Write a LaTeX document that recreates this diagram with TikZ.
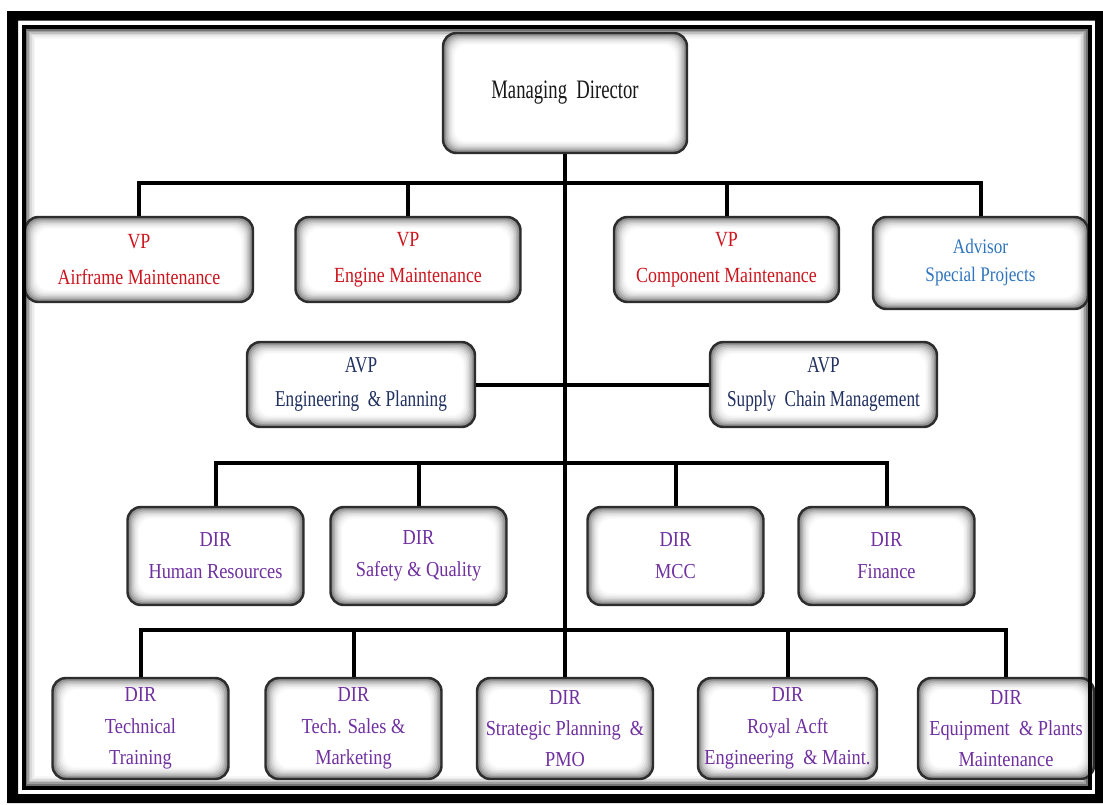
\documentclass[tikz,border=0pt]{standalone}
\usepackage{fontspec}
\setmainfont{Liberation Serif}
\newfontfamily\mdfont[FakeStretch=0.70]{Liberation Serif}
\newfontfamily\vpfont[FakeStretch=0.83]{Liberation Serif}
\newfontfamily\avpfont[FakeStretch=0.76]{Liberation Serif}
\newfontfamily\dirfont[FakeStretch=0.86]{Liberation Serif}
\usetikzlibrary{calc}

\definecolor{vpred}{RGB}{204,22,30}
\definecolor{avpnavy}{RGB}{32,48,96}
\definecolor{advblue}{RGB}{46,117,190}
\definecolor{dirpurple}{RGB}{112,48,160}
\definecolor{mdtext}{RGB}{25,25,25}
\definecolor{boxedge}{RGB}{45,45,45}

\begin{document}
\begin{tikzpicture}[x=0.75pt,y=-0.75pt,
  sz/.style 2 args={minimum width={#1*0.75pt}, minimum height={#2*0.75pt}},
  orgbox/.style={draw=boxedge, line width=1.8pt, rounded corners=10pt,
    align=center, inner sep=0pt,
    path picture={
      \foreach \k/\g in {0/55,1/42,2/31,3/22,4/15,5/9,6/5,7/2,8/0}{
        \fill[black!\g, rounded corners=9pt]
          ([shift={(\k*1.1pt,\k*1.1pt)}]path picture bounding box.south west) rectangle
          ([shift={(-\k*1.1pt,-\k*1.1pt)}]path picture bounding box.north east);
      }}},
  mdtxt/.style={font={\mdfont\fontsize{20pt}{24pt}\selectfont}, text=mdtext},
  vptxt/.style={font={\vpfont\fontsize{16.2pt}{27pt}\selectfont}, text=vpred},
  advtxt/.style={font={\vpfont\fontsize{15.5pt}{21pt}\selectfont}, text=advblue},
  avptxt/.style={font={\avpfont\fontsize{17pt}{25pt}\selectfont}, text=avpnavy},
  dirtxt/.style={font={\dirfont\fontsize{16pt}{24pt}\selectfont}, text=dirpurple},
  dirtxtb/.style={font={\dirfont\fontsize{16pt}{23.5pt}\selectfont}, text=dirpurple},
  conn/.style={line width=3pt, black}
]
% page and background
\useasboundingbox (0,0) rectangle (1103,804);
\fill[white] (0,0) rectangle (1103,804);

% soft shade just inside the frame
\foreach \k/\g in {0/55,1/38,2/25,3/15,4/8,5/3}{
  \draw[black!\g, line width=1.2pt]
    ($(26.3,29.8)+(\k*1.6,\k*1.6)$) rectangle ($(1086.7,784.7)-(\k*1.6,\k*1.6)$);
}

% junction points on the trunk
\coordinate (j1) at (565,183);
\coordinate (j3) at (565,463);
\coordinate (j4) at (565,630);

% boxes
\node[orgbox, sz={244}{120}, mdtxt] (md) at (565,93) {Managing~~Director};

\node[orgbox, sz={228}{85}, vptxt] (vp1) at (139,259.5) {VP\\Airframe Maintenance};
\node[orgbox, sz={225}{85}, vptxt] (vp2) at (408,259.5) {VP\\Engine Maintenance};
\node[orgbox, sz={225}{85}, vptxt] (vp3) at (726.5,259.5) {VP\\Component Maintenance};
\node[orgbox, sz={215}{92}, advtxt] (adv) at (980.5,263) {Advisor\\Special Projects};

\node[orgbox, sz={228}{85}, avptxt] (avp1) at (361,384.5) {AVP\\Engineering~~\& Planning};
\node[orgbox, sz={227}{85}, avptxt] (avp2) at (823.5,384.5) {AVP\\Supply~~Chain Management};

\node[orgbox, sz={176}{98}, dirtxt] (d1) at (215.5,556) {DIR\\Human Resources};
\node[orgbox, sz={176}{98}, dirtxt] (d2) at (418.5,556) {DIR\\Safety \& Quality};
\node[orgbox, sz={176}{98}, dirtxt] (d3) at (675.5,556) {DIR\\MCC};
\node[orgbox, sz={176}{98}, dirtxt] (d4) at (886.5,556) {DIR\\Finance};

\node[orgbox, sz={176}{101}, dirtxtb] (e1) at (140.5,728.5) {DIR\\Technical\\Training};
\node[orgbox, sz={176}{101}, dirtxtb] (e2) at (353.5,728.5) {DIR\\Tech. Sales \&\\Marketing};
\node[orgbox, sz={176}{101}, dirtxtb] (e3) at (565,728.5) {DIR\\Strategic Planning~~\&\\PMO};
\node[orgbox, sz={179}{101}, dirtxtb] (e4) at (787.5,728.5) {DIR\\Royal Acft\\Engineering~~\& Maint.};
\node[orgbox, sz={176}{101}, dirtxtb] (e5) at (1006,728.5) {DIR\\Equipment~~\& Plants\\Maintenance};

% connectors
\draw[conn] (md.south) -- (j4);
\foreach \n in {vp1,vp2,vp3,adv} \draw[conn] (\n.north) |- (j1);
\draw[conn] (avp1.east) -- (avp2.west);
\foreach \n in {d1,d2,d3,d4} \draw[conn] (\n.north) |- (j3);
\foreach \n in {e1,e2,e3,e4,e5} \draw[conn] (\n.north) |- (j4);

% double frame
\draw[black, line width=3pt] (23.5,27) rectangle (1089.5,787.5);
\fill[black, even odd rule] (7,11) rectangle (1103,803) (18,20.5) rectangle (1095,794);
\end{tikzpicture}
\end{document}
